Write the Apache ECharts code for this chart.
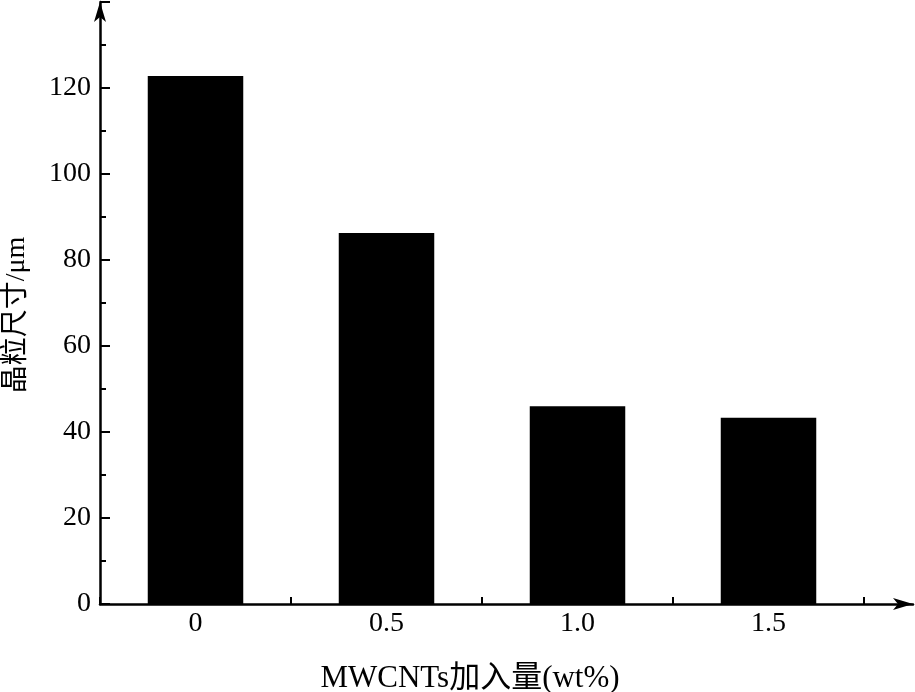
<!DOCTYPE html>
<html>
<head>
<meta charset="utf-8">
<script src="https://cdn.jsdelivr.net/npm/echarts@6/dist/echarts.min.js"></script>
<style>html,body{margin:0;padding:0;background:#fff;}#c{width:915px;height:692px;}</style>
</head>
<body>
<div id="c"></div>
<script>
const categories = ['0', '0.5', '1.0', '1.5'];
const grainSize = [122.8, 86.3, 46.0, 43.3];
const xName = 'MWCNTs加入量(wt%)';
const yName = '晶粒尺寸/μm';

const font = '"Liberation Serif", "Noto Sans CJK SC", serif';
const chart = echarts.init(document.getElementById('c'));
chart.setOption({
  backgroundColor: '#ffffff',
  animation: false,
  grid: [
    { left: 100, right: 51, top: 2, bottom: 88, outerBoundsMode: 'none', containLabel: false },
    { left: 100, right: 2, top: 2, bottom: 88, outerBoundsMode: 'none', containLabel: false }
  ],
  xAxis: [
    {
      type: 'category', gridIndex: 0, data: categories,
      axisLine: { show: false },
      axisTick: { show: true, inside: true, length: 7, lineStyle: { color: '#000', width: 2 } },
      axisLabel: { color: '#000', fontFamily: font, fontSize: 28, margin: 6 },
      name: xName, nameLocation: 'middle', nameGap: 59,
      nameTextStyle: { color: '#000', fontFamily: font, fontSize: 31, padding: [0, 24, 0, 0] }
    },
    {
      type: 'value', gridIndex: 1, min: 0, max: 1,
      axisLine: { show: true, onZero: false, symbol: ['none', 'arrow'], symbolSize: [9, 20], lineStyle: { color: '#000', width: 2.5 } },
      axisTick: { show: false }, axisLabel: { show: false }, splitLine: { show: false }
    }
  ],
  yAxis: [
    {
      type: 'value', gridIndex: 0, min: 0, max: 140, interval: 20,
      axisLine: { show: true, symbol: ['none', 'arrow'], symbolSize: [9, 20], lineStyle: { color: '#000', width: 2.5 } },
      axisTick: { show: true, inside: true, length: 10, lineStyle: { color: '#000', width: 2 } },
      minorTick: { show: true, splitNumber: 2, length: 6, lineStyle: { color: '#000', width: 2 } },
      axisLabel: {
        color: '#000', fontFamily: font, fontSize: 28, margin: 9,
        formatter: v => (v === 140 ? '' : String(v))
      },
      splitLine: { show: false },
      name: yName, nameLocation: 'middle', nameGap: 69, nameRotate: 90,
      nameTextStyle: { color: '#000', fontFamily: font, fontSize: 28, padding: [0, 24, 0, 0] }
    },
    {
      type: 'value', gridIndex: 1, min: 0, max: 140, show: false
    }
  ],
  series: [
    {
      type: 'bar', xAxisIndex: 0, yAxisIndex: 0, data: grainSize,
      barWidth: '50%', itemStyle: { color: '#000' }
    }
  ]
});
</script>
</body>
</html>
